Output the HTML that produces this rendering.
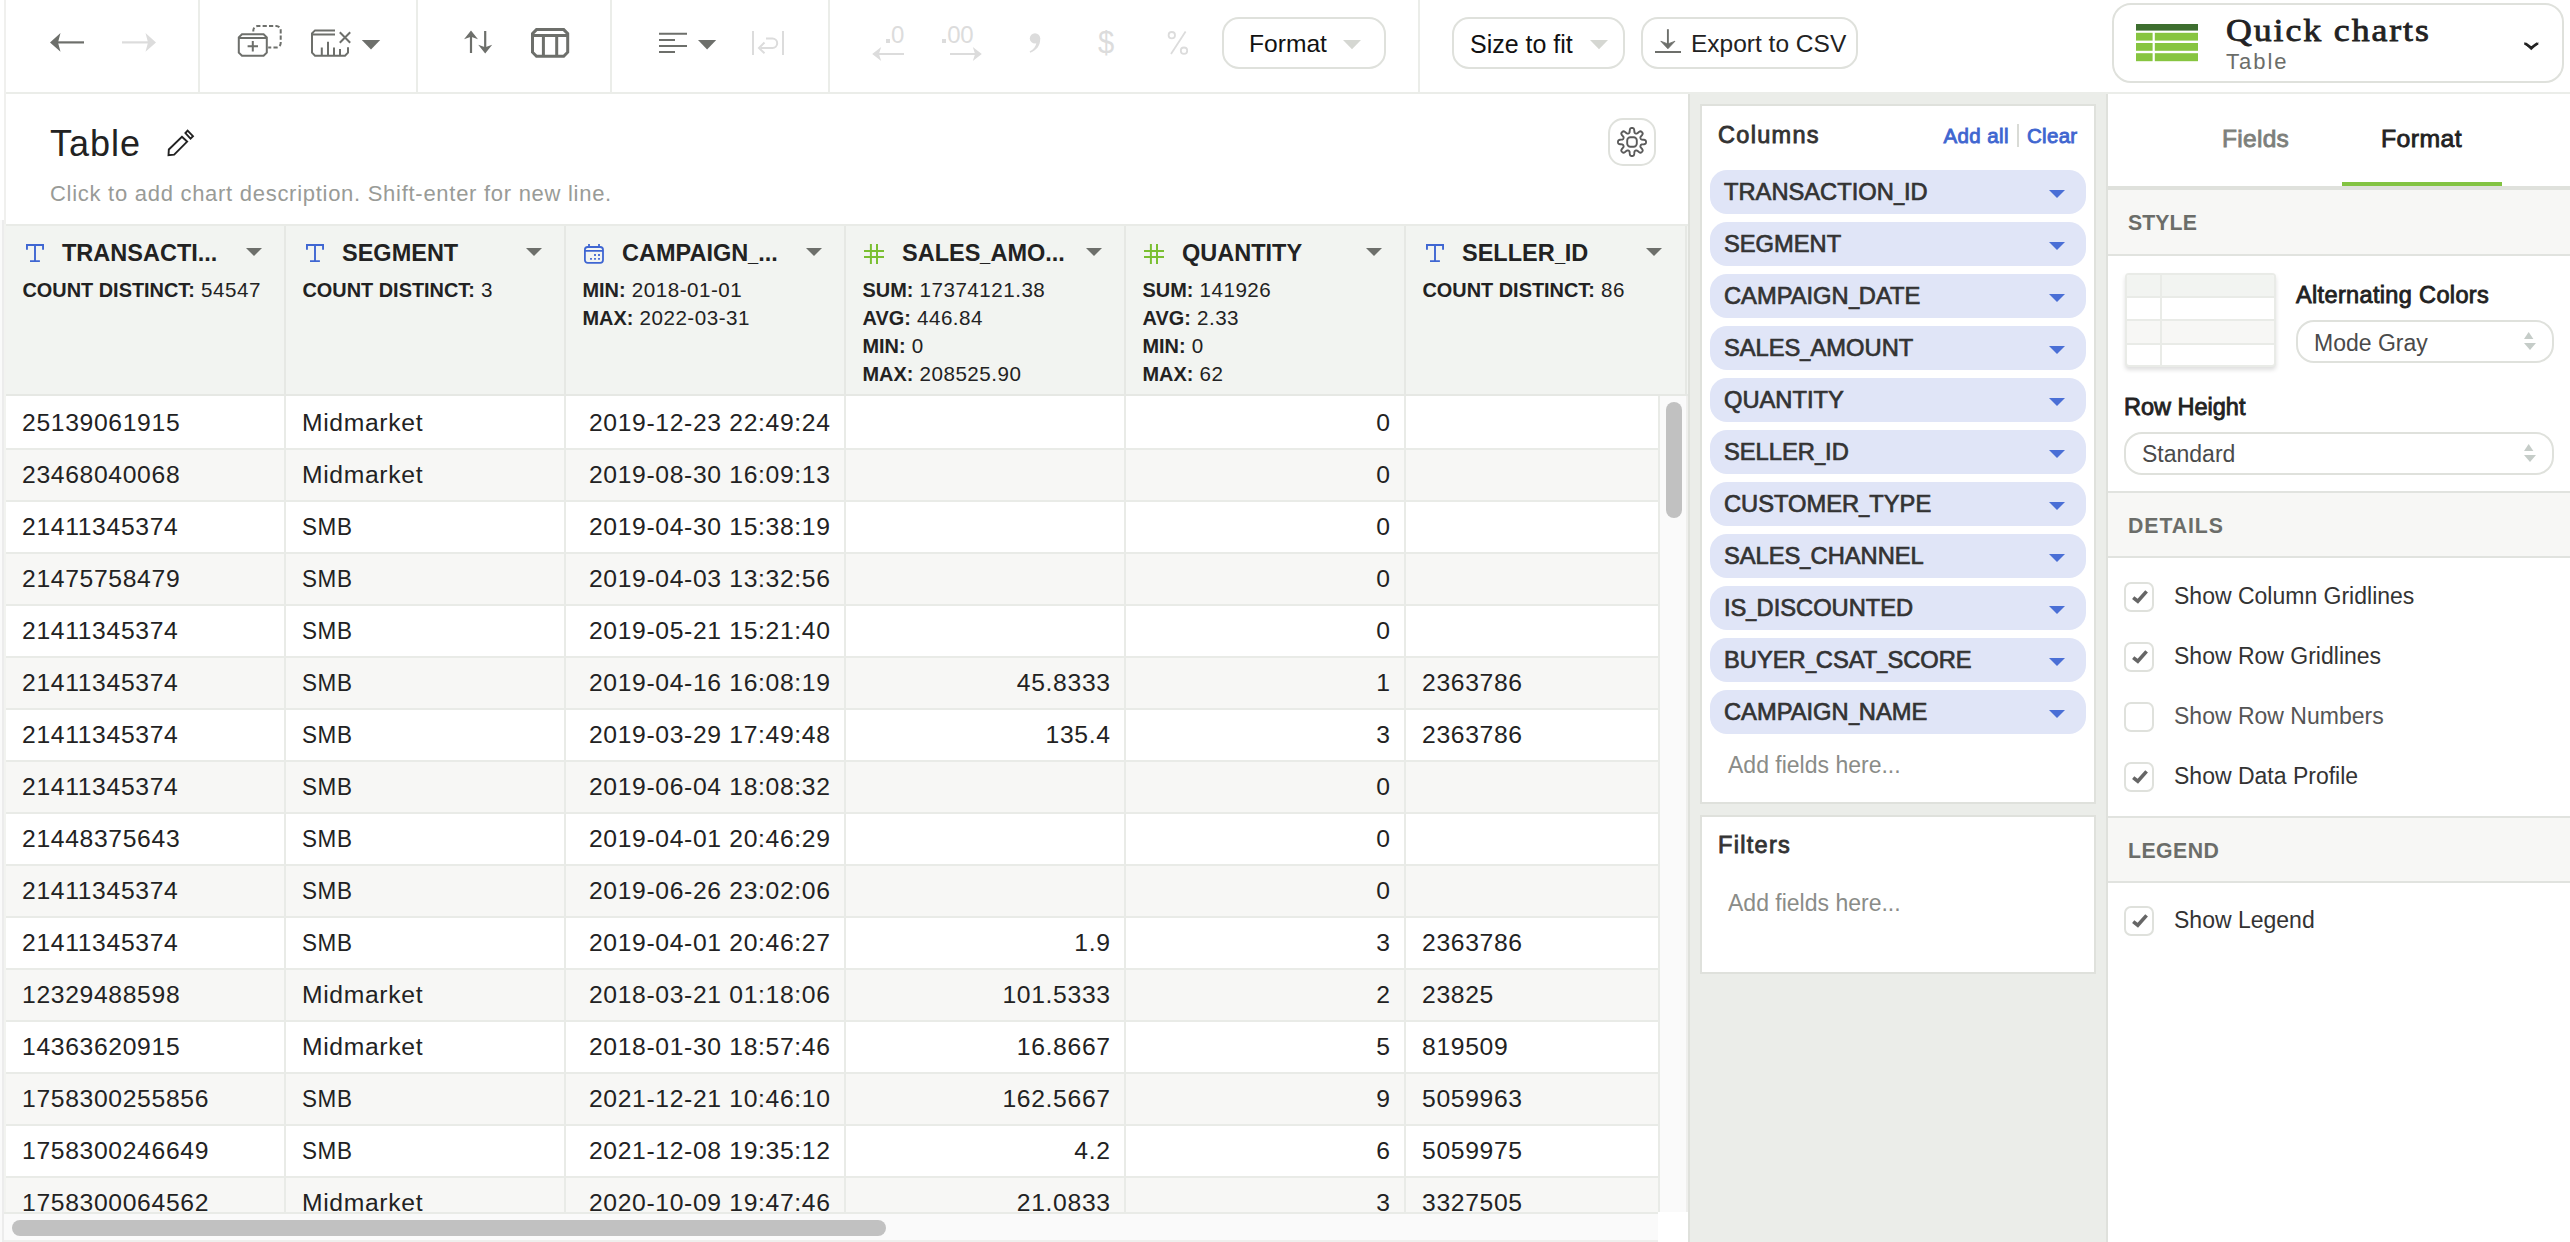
<!DOCTYPE html>
<html><head><meta charset="utf-8"><title>Table</title>
<style>
*{box-sizing:border-box;margin:0;padding:0}
html,body{width:2570px;height:1242px;overflow:hidden;background:#fff}
body{font-family:"Liberation Sans",sans-serif;color:#222;position:relative}
.abs{position:absolute}
.ln{position:absolute;background:#e9ebe7}
svg{position:absolute;overflow:visible}
.btn{position:absolute;border:2px solid #dfe1dc;border-radius:17px;background:#fff}
.t{position:absolute;white-space:nowrap;line-height:1}
/* table */
#hdr{position:absolute;left:6px;top:224px;width:1682px;height:172px;background:#f2f4f1;border-top:2px solid #e9ebe7;border-bottom:2px solid #e6e8e4}
.hc{position:absolute;top:0;height:168px;width:280px}
.hc .hi{left:18px;top:18px}
.hc .nm{position:absolute;left:56px;top:16px;font-weight:bold;font-size:23.5px;line-height:1;white-space:nowrap;color:#222}
.hc .cr{position:absolute;left:239.5px;top:22px;width:0;height:0;border-left:8px solid transparent;border-right:8px solid transparent;border-top:8.3px solid #6d6f6b}
.hc .st{position:absolute;left:16.5px;font-size:20.6px;letter-spacing:.5px;line-height:1;white-space:nowrap;color:#222}
.hc .st b{font-size:19.9px;letter-spacing:0}
.u{display:inline-block;width:.43em;transform:scaleX(.78);transform-origin:left}
.row{position:absolute;left:6px;width:1652px;height:52px;border-bottom:2px solid #e9ebe7;background:#fff}
.smb{display:inline-block;transform:scaleX(.91);transform-origin:left}
.row.alt{background:#f7f7f5}
.c{position:absolute;top:0;height:50px;line-height:49.4px;font-size:24.7px;letter-spacing:.66px;white-space:nowrap;color:#222}
.c.r{margin-right:-.66px}
.vl{position:absolute;width:2px;background:#e9ebe7}
/* chips */
.chip{position:absolute;left:1710px;width:376px;height:44px;border-radius:17px;background:#e0e5f7}
.chip>span{position:absolute;left:14px;top:11.3px;font-size:23.7px;line-height:1;color:#333;-webkit-text-stroke:0.7px #333;white-space:nowrap}
.chip i{position:absolute;left:338.5px;top:19.5px;width:0;height:0;border-left:8px solid transparent;border-right:8px solid transparent;border-top:8px solid #4a6fd6}
.card{position:absolute;left:1700px;width:396px;background:#fff;border:2px solid #dfe1dc}
.sec{position:absolute;left:2108px;width:462px;height:67px;background:#f7f7f5;border-top:2px solid #e1e3df;border-bottom:2px solid #e1e3df}
.sec span{position:absolute;left:19.8px;top:22.3px;font-size:22.6px;font-weight:bold;letter-spacing:.5px;color:#6b6d69;line-height:1;transform:scaleX(.94);transform-origin:left}
.cb{position:absolute;left:2124px;width:30px;height:30px;border:2px solid #dfe1dc;border-radius:7px;background:#fff}
.cbl{position:absolute;left:2174px;font-size:23px;line-height:1;color:#333;white-space:nowrap}
.med{-webkit-text-stroke:0.85px currentColor}
.sel{position:absolute;border:2px solid #dfe1dc;border-radius:18px;background:#fff;height:43px}
.sel span{position:absolute;left:16px;top:9.5px;font-size:23px;line-height:1;color:#4a4a4a}
.sel i{position:absolute;right:16px;width:0;height:0;border-left:6px solid transparent;border-right:6px solid transparent}
.sel i.u{top:10px;border-bottom:7.5px solid #c5ccc8}
.sel i.d{top:21px;border-top:7.5px solid #c5ccc8}
</style></head><body>
<div class="ln" style="left:4px;top:0;width:2px;height:224px;background:#f0f0ee"></div><div class="ln" style="left:0;top:220px;width:2px;height:1022px;background:#fafafa"></div><div class="ln" style="left:2px;top:220px;width:2px;height:1022px;background:#ececec"></div><div class="ln" style="left:4px;top:224px;width:2px;height:1018px;background:#f2f3f0"></div><div class="ln" style="left:6px;top:92px;width:2564px;height:2px;background:#ebede9"></div><div class="ln" style="left:198px;top:0;width:2px;height:92px;background:#ebede9"></div><div class="ln" style="left:416px;top:0;width:2px;height:92px;background:#ebede9"></div><div class="ln" style="left:610px;top:0;width:2px;height:92px;background:#ebede9"></div><div class="ln" style="left:828px;top:0;width:2px;height:92px;background:#ebede9"></div><div class="ln" style="left:1418px;top:0;width:2px;height:92px;background:#ebede9"></div><svg style="left:0;top:0" width="1440" height="92" viewBox="0 0 1440 92"><path d="M50 42.4 L60.5 33 L58 42.4 L60.5 51.8 Z" fill="#6d6f6b"/><path d="M56 42.4H84" stroke="#6d6f6b" stroke-width="2.2"/><path d="M156 42.4 L145.5 33 L148 42.4 L145.5 51.8 Z" fill="#dcdcdc"/><path d="M122 42.4H150" stroke="#dcdcdc" stroke-width="2.2"/><path d="M242 34.2h21.6l3.2 3.2v15.2l-3.2 3.2h-21.6l-3.2-3.2v-15.2z M239.5 38h27.5" fill="none" stroke="#6d6f6b" stroke-width="2"/><path d="M247.6 46.2h10.4M252.8 41v10.4" stroke="#6d6f6b" stroke-width="2"/><path d="M253.3 31.6v-1.1a4.5 4.5 0 0 1 4.5-4.5h18.4a4.5 4.5 0 0 1 4.5 4.5v12.5a4.500 4.500 0 0 1-4.5 4.500h-8" fill="none" stroke="#6d6f6b" stroke-width="2" stroke-dasharray="4.2 2.2"/><path d="M335 30.4h-20l-3 3v19.300l3 3h30l3-3v-5.500 M312 34.600h23" fill="none" stroke="#6d6f6b" stroke-width="2"/><path d="M321.800 47.400v8M328 41.700v13.700M334 47.400v8M340 49v6.400" stroke="#6d6f6b" stroke-width="2"/><path d="M339.800 32.300l10.400 10.400M350.200 32.300l-10.400 10.400" stroke="#6d6f6b" stroke-width="2"/><path d="M361.800 40h18.400l-9.200 9.400z" fill="#6d6f6b"/><path d="M471 33v20M485.200 31v18" stroke="#6d6f6b" stroke-width="2.200"/><path d="M471 30.600l7 8.600-7-2.400-7 2.400z" fill="#6d6f6b"/><path d="M485.200 53.400l7-8.600-7 2.400-7-2.400z" fill="#6d6f6b"/><path d="M536.500 29.600h27.200l4 4v18.600l-4 4h-27.200l-4-4v-18.600z M533 35.400h35 M543.400 35.400v20.500M556.700 35.400v20.500" fill="none" stroke="#6d6f6b" stroke-width="3"/><path d="M659 33.800h28M659 39.900h16M659 45.900h28M659 52h16" stroke="#6d6f6b" stroke-width="2"/><path d="M698 40h18.200l-9.100 9.400z" fill="#6d6f6b"/><path d="M753 31v24M783 31v24" stroke="#dcdcdc" stroke-width="2"/><path d="M766 38.500h6.500a4.700 4.700 0 0 1 0 9.400h-12" fill="none" stroke="#dcdcdc" stroke-width="2"/><path d="M764.500 42.500l-5.500 5.400 5.500 5.400" fill="none" stroke="#dcdcdc" stroke-width="2"/><path d="M876 54h28" stroke="#dcdcdc" stroke-width="2"/><path d="M872.200 54l9-7-2.300 7 2.300 7z" fill="#dcdcdc"/><path d="M954 54h-4h28" stroke="#dcdcdc" stroke-width="2"/><path d="M981.800 54l-9-7 2.300 7-2.300 7z" fill="#dcdcdc"/></svg><div class="t" style="left:891px;top:22.500px;font-size:24px;color:#dcdcdc">0</div><div class="abs" style="left:886px;top:39.300px;width:3.600px;height:3.600px;background:#dcdcdc"></div><div class="t" style="left:947.200px;top:22.500px;font-size:24px;letter-spacing:-.400px;color:#dcdcdc">00</div><div class="abs" style="left:942px;top:39.300px;width:3.600px;height:3.600px;background:#dcdcdc"></div><svg style="left:1025px;top:30px" width="20" height="26" viewBox="1025 30 20 26"><circle cx="1035" cy="38.400" r="5.200" fill="#dcdcdc"/><path d="M1040.200 38.400C1040.400 45.500 1036.500 50.200 1030.200 52.800L1029.600 51.600C1033.800 49.300 1036.200 46 1036.400 42.200Z" fill="#dcdcdc"/></svg><div class="t" style="left:1097.500px;top:26.500px;font-size:31px;color:#dcdcdc;transform:scaleX(.94);transform-origin:left">$</div><svg style="left:1165px;top:28px" width="26" height="30" viewBox="1165 28 26 30"><circle cx="1171.800" cy="35.200" r="3.200" fill="none" stroke="#dcdcdc" stroke-width="1.800"/><circle cx="1184" cy="50.700" r="3.200" fill="none" stroke="#dcdcdc" stroke-width="1.800"/><path d="M1185.600 31.500L1171 54" stroke="#dcdcdc" stroke-width="1.800"/></svg><div class="btn" style="left:1222px;top:17px;width:164px;height:52px"></div><div class="t" style="left:1249px;top:31.800px;font-size:24.600px;color:#111">Format</div><svg style="left:1343px;top:40px" width="18" height="10"><path d="M0 0h18l-9 9.200z" fill="#d5d7d2"/></svg><div class="btn" style="left:1452px;top:17px;width:173px;height:52px"></div><div class="t" style="left:1470px;top:31.800px;font-size:25px;color:#111">Size to fit</div><svg style="left:1590px;top:40px" width="18" height="10"><path d="M0 0h18l-9 9.200z" fill="#d5d7d2"/></svg><div class="btn" style="left:1641px;top:17px;width:217px;height:52px"></div><svg style="left:1650px;top:25px" width="36" height="32" viewBox="1650 25 36 32"><path d="M1655 52h26" stroke="#6d6f6b" stroke-width="2"/><path d="M1667.900 29.200v16" stroke="#6d6f6b" stroke-width="1.900"/><path d="M1660.800 41.200L1667.900 43.900L1675 41.200L1667.900 48.800Z" fill="#6d6f6b" stroke="#6d6f6b" stroke-width="0.800" stroke-linejoin="round"/></svg><div class="t" style="left:1691px;top:31.800px;font-size:24.500px;color:#222">Export to CSV</div><div class="btn" style="left:2112px;top:3px;width:452px;height:80px;border-radius:19px"></div><svg style="left:2136px;top:24px" width="62" height="38" viewBox="0 0 62 38"><rect x="0" y="0" width="62" height="6.600" fill="#3d6e2f"/><g fill="#87c540"><rect x="0" y="8.800" width="16.600" height="7.800"/><rect x="18.800" y="8.800" width="43.200" height="7.800"/><rect x="0" y="19" width="16.600" height="7.800"/><rect x="18.800" y="19" width="43.200" height="7.800"/><rect x="0" y="29.200" width="16.600" height="8"/><rect x="18.800" y="29.200" width="43.200" height="8"/></g></svg><div class="t" style="left:2226px;top:14px;font-family:'Liberation Serif',serif;font-size:32.500px;letter-spacing:1.750px;color:#222;-webkit-text-stroke:0.800px #222;transform:scaleX(1.100);transform-origin:left">Quick charts</div><div class="t" style="left:2226px;top:51px;font-size:22px;letter-spacing:2px;color:#6b6d69">Table</div><svg style="left:2523px;top:40.500px" width="17" height="10" viewBox="0 0 17 10"><path d="M1.300 1 L8.300 8.600 L15.300 1 L15.300 3.600 C12.500 5.200 10 7.300 8.300 9.300 C6.600 7.300 4.100 5.200 1.300 3.600Z" fill="#222"/><path d="M2 2.200 C4.500 4 6.500 5.300 8.300 7 C10.100 5.300 12.100 4 14.600 2.200" fill="none" stroke="#222" stroke-width="2.600"/></svg><div class="t" style="left:50px;top:125.900px;font-size:36px;letter-spacing:1px;color:#222">Table</div><svg style="left:160px;top:120px" width="44" height="44" viewBox="160 120 44 44"><path d="M181.91 136.72L187.14 141.62L174.17 154.59L168.51 155.15L168.83 149.52Z M187.62 130.60L192.97 136.19L190.53 138.63L185.39 133.09Z" fill="none" stroke="#222" stroke-width="1.900" stroke-linejoin="miter"/></svg><div class="t" style="left:50px;top:182.700px;font-size:22px;letter-spacing:0.720px;color:#999b97">Click to add chart description. Shift-enter for new line.</div><div class="btn" style="left:1608px;top:118px;width:48px;height:48px;border-radius:15px"></div><svg style="left:1608px;top:118px" width="48" height="48" viewBox="0 0 48 48"><path d="M38.00 24.00 L37.99 24.37 L37.95 24.73 L37.86 25.09 L37.70 25.44 L37.39 25.76 L36.83 26.03 L35.95 26.21 L34.90 26.32 L34.02 26.41 L33.46 26.53 L33.13 26.71 L32.94 26.90 L32.80 27.12 L32.69 27.34 L32.59 27.56 L32.50 27.79 L32.43 28.02 L32.37 28.27 L32.37 28.55 L32.48 28.90 L32.79 29.39 L33.35 30.07 L34.02 30.88 L34.51 31.64 L34.72 32.22 L34.70 32.67 L34.57 33.03 L34.38 33.34 L34.15 33.63 L33.90 33.90 L33.63 34.15 L33.34 34.38 L33.03 34.57 L32.67 34.70 L32.22 34.72 L31.64 34.51 L30.88 34.02 L30.07 33.35 L29.39 32.79 L28.90 32.48 L28.55 32.37 L28.27 32.37 L28.02 32.43 L27.79 32.50 L27.56 32.59 L27.34 32.69 L27.12 32.80 L26.90 32.94 L26.71 33.13 L26.53 33.46 L26.41 34.02 L26.32 34.90 L26.21 35.95 L26.03 36.83 L25.76 37.39 L25.44 37.70 L25.09 37.86 L24.73 37.95 L24.37 37.99 L24.00 38.00 L23.63 37.99 L23.27 37.95 L22.91 37.86 L22.56 37.70 L22.24 37.39 L21.97 36.83 L21.79 35.95 L21.68 34.90 L21.59 34.02 L21.47 33.46 L21.29 33.13 L21.10 32.94 L20.88 32.80 L20.66 32.69 L20.44 32.59 L20.21 32.50 L19.98 32.43 L19.73 32.37 L19.45 32.37 L19.10 32.48 L18.61 32.79 L17.93 33.35 L17.12 34.02 L16.36 34.51 L15.78 34.72 L15.33 34.70 L14.97 34.57 L14.66 34.38 L14.37 34.15 L14.10 33.90 L13.85 33.63 L13.62 33.34 L13.43 33.03 L13.30 32.67 L13.28 32.22 L13.49 31.64 L13.98 30.88 L14.65 30.07 L15.21 29.39 L15.52 28.90 L15.63 28.55 L15.63 28.27 L15.57 28.02 L15.50 27.79 L15.41 27.56 L15.31 27.34 L15.20 27.12 L15.06 26.90 L14.87 26.71 L14.54 26.53 L13.98 26.41 L13.10 26.32 L12.05 26.21 L11.17 26.03 L10.61 25.76 L10.30 25.44 L10.14 25.09 L10.05 24.73 L10.01 24.37 L10.00 24.00 L10.01 23.63 L10.05 23.27 L10.14 22.91 L10.30 22.56 L10.61 22.24 L11.17 21.97 L12.05 21.79 L13.10 21.68 L13.98 21.59 L14.54 21.47 L14.87 21.29 L15.06 21.10 L15.20 20.88 L15.31 20.66 L15.41 20.44 L15.50 20.21 L15.57 19.98 L15.63 19.73 L15.63 19.45 L15.52 19.10 L15.21 18.61 L14.65 17.93 L13.98 17.12 L13.49 16.36 L13.28 15.78 L13.30 15.33 L13.43 14.97 L13.62 14.66 L13.85 14.37 L14.10 14.10 L14.37 13.85 L14.66 13.62 L14.97 13.43 L15.33 13.30 L15.78 13.28 L16.36 13.49 L17.12 13.98 L17.93 14.65 L18.61 15.21 L19.10 15.52 L19.45 15.63 L19.73 15.63 L19.98 15.57 L20.21 15.50 L20.44 15.41 L20.66 15.31 L20.88 15.20 L21.10 15.06 L21.29 14.87 L21.47 14.54 L21.59 13.98 L21.68 13.10 L21.79 12.05 L21.97 11.17 L22.24 10.61 L22.56 10.30 L22.91 10.14 L23.27 10.05 L23.63 10.01 L24.00 10.00 L24.37 10.01 L24.73 10.05 L25.09 10.14 L25.44 10.30 L25.76 10.61 L26.03 11.17 L26.21 12.05 L26.32 13.10 L26.41 13.98 L26.53 14.54 L26.71 14.87 L26.90 15.06 L27.12 15.20 L27.34 15.31 L27.56 15.41 L27.79 15.50 L28.02 15.57 L28.27 15.63 L28.55 15.63 L28.90 15.52 L29.39 15.21 L30.07 14.65 L30.88 13.98 L31.64 13.49 L32.22 13.28 L32.67 13.30 L33.03 13.43 L33.34 13.62 L33.63 13.85 L33.90 14.10 L34.15 14.37 L34.38 14.66 L34.57 14.97 L34.70 15.33 L34.72 15.78 L34.51 16.36 L34.02 17.12 L33.35 17.93 L32.79 18.61 L32.48 19.10 L32.37 19.45 L32.37 19.73 L32.43 19.98 L32.50 20.21 L32.59 20.44 L32.69 20.66 L32.80 20.88 L32.94 21.10 L33.13 21.29 L33.46 21.47 L34.02 21.59 L34.90 21.68 L35.95 21.79 L36.83 21.97 L37.39 22.24 L37.70 22.56 L37.86 22.91 L37.95 23.27 L37.99 23.63Z" fill="none" stroke="#5a5a5a" stroke-width="1.900" stroke-linejoin="round"/><rect x="19.200" y="19.200" width="9.600" height="9.600" rx="3.200" fill="none" stroke="#5a5a5a" stroke-width="1.900"/></svg><div class="ln" style="left:1688px;top:94px;width:2px;height:1148px;background:#dfe1dc"></div><div id="hdr"><div class="hc" style="left:0px"><svg class="hi" viewBox="0 0 22 20" width="22" height="20"><path d="M2.950 5.800V0.950H19.050V5.800M11 0.950V17.100M6 17.100h9.900" fill="none" stroke="#3f66d2" stroke-width="1.900"/></svg><div class="nm">TRANSACTI...</div><div class="cr"></div><div class="st" style="top:54px"><b>COUNT DISTINCT:</b> 54547</div></div><div class="hc" style="left:280px"><svg class="hi" viewBox="0 0 22 20" width="22" height="20"><path d="M2.950 5.800V0.950H19.050V5.800M11 0.950V17.100M6 17.100h9.900" fill="none" stroke="#3f66d2" stroke-width="1.900"/></svg><div class="nm">SEGMENT</div><div class="cr"></div><div class="st" style="top:54px"><b>COUNT DISTINCT:</b> 3</div></div><div class="hc" style="left:560px"><svg class="hi" viewBox="0 0 20 20" width="20" height="20"><rect x="0.900" y="3" width="18.100" height="15.900" rx="2.800" fill="none" stroke="#3f66d2" stroke-width="1.800"/><path d="M0.900 6.800h18.100M5 0v3M15 0v3" stroke="#3f66d2" stroke-width="1.800"/><path d="M10.100 11h1.800M14.100 11h1.800M6.100 14.900h1.800M10.100 14.900h1.800M14.100 14.900h1.800" stroke="#3f66d2" stroke-width="1.800"/></svg><div class="nm">CAMPAIGN<span class="u">_</span>...</div><div class="cr"></div><div class="st" style="top:54px"><b>MIN:</b> 2018-01-01</div><div class="st" style="top:82px"><b>MAX:</b> 2022-03-31</div></div><div class="hc" style="left:840px"><svg class="hi" viewBox="0 0 20 20" width="20" height="20"><path d="M6.900 0v20M13 0v20M0 6.900h20M0 13h20" fill="none" stroke="#7abf31" stroke-width="2"/></svg><div class="nm">SALES<span class="u">_</span>AMO...</div><div class="cr"></div><div class="st" style="top:54px"><b>SUM:</b> 17374121.38</div><div class="st" style="top:82px"><b>AVG:</b> 446.84</div><div class="st" style="top:110px"><b>MIN:</b> 0</div><div class="st" style="top:138px"><b>MAX:</b> 208525.90</div></div><div class="hc" style="left:1120px"><svg class="hi" viewBox="0 0 20 20" width="20" height="20"><path d="M6.900 0v20M13 0v20M0 6.900h20M0 13h20" fill="none" stroke="#7abf31" stroke-width="2"/></svg><div class="nm">QUANTITY</div><div class="cr"></div><div class="st" style="top:54px"><b>SUM:</b> 141926</div><div class="st" style="top:82px"><b>AVG:</b> 2.33</div><div class="st" style="top:110px"><b>MIN:</b> 0</div><div class="st" style="top:138px"><b>MAX:</b> 62</div></div><div class="hc" style="left:1400px"><svg class="hi" viewBox="0 0 22 20" width="22" height="20"><path d="M2.950 5.800V0.950H19.050V5.800M11 0.950V17.100M6 17.100h9.900" fill="none" stroke="#3f66d2" stroke-width="1.900"/></svg><div class="nm">SELLER<span class="u">_</span>ID</div><div class="cr"></div><div class="st" style="top:54px"><b>COUNT DISTINCT:</b> 86</div></div><div class="vl" style="left:278px;top:0;height:168px;background:#e6e8e4"></div><div class="vl" style="left:558px;top:0;height:168px;background:#e6e8e4"></div><div class="vl" style="left:838px;top:0;height:168px;background:#e6e8e4"></div><div class="vl" style="left:1118px;top:0;height:168px;background:#e6e8e4"></div><div class="vl" style="left:1398px;top:0;height:168px;background:#e6e8e4"></div><div class="vl" style="left:1679px;top:0;height:168px;background:#e6e8e4"></div></div><div class="abs" style="left:6px;top:396px;width:1652px;height:2px;background:#fff"></div><div class="row" style="top:398px"><div class="c" style="left:16px">25139061915</div><div class="c" style="left:296px">Midmarket</div><div class="c r" style="right:828px">2019-12-23 22:49:24</div><div class="c r" style="right:268px">0</div></div><div class="row alt" style="top:450px"><div class="c" style="left:16px">23468040068</div><div class="c" style="left:296px">Midmarket</div><div class="c r" style="right:828px">2019-08-30 16:09:13</div><div class="c r" style="right:268px">0</div></div><div class="row" style="top:502px"><div class="c" style="left:16px">21411345374</div><div class="c" style="left:296px"><span class="smb">SMB</span></div><div class="c r" style="right:828px">2019-04-30 15:38:19</div><div class="c r" style="right:268px">0</div></div><div class="row alt" style="top:554px"><div class="c" style="left:16px">21475758479</div><div class="c" style="left:296px"><span class="smb">SMB</span></div><div class="c r" style="right:828px">2019-04-03 13:32:56</div><div class="c r" style="right:268px">0</div></div><div class="row" style="top:606px"><div class="c" style="left:16px">21411345374</div><div class="c" style="left:296px"><span class="smb">SMB</span></div><div class="c r" style="right:828px">2019-05-21 15:21:40</div><div class="c r" style="right:268px">0</div></div><div class="row alt" style="top:658px"><div class="c" style="left:16px">21411345374</div><div class="c" style="left:296px"><span class="smb">SMB</span></div><div class="c r" style="right:828px">2019-04-16 16:08:19</div><div class="c r" style="right:548px">45.8333</div><div class="c r" style="right:268px">1</div><div class="c" style="left:1416px">2363786</div></div><div class="row" style="top:710px"><div class="c" style="left:16px">21411345374</div><div class="c" style="left:296px"><span class="smb">SMB</span></div><div class="c r" style="right:828px">2019-03-29 17:49:48</div><div class="c r" style="right:548px">135.4</div><div class="c r" style="right:268px">3</div><div class="c" style="left:1416px">2363786</div></div><div class="row alt" style="top:762px"><div class="c" style="left:16px">21411345374</div><div class="c" style="left:296px"><span class="smb">SMB</span></div><div class="c r" style="right:828px">2019-06-04 18:08:32</div><div class="c r" style="right:268px">0</div></div><div class="row" style="top:814px"><div class="c" style="left:16px">21448375643</div><div class="c" style="left:296px"><span class="smb">SMB</span></div><div class="c r" style="right:828px">2019-04-01 20:46:29</div><div class="c r" style="right:268px">0</div></div><div class="row alt" style="top:866px"><div class="c" style="left:16px">21411345374</div><div class="c" style="left:296px"><span class="smb">SMB</span></div><div class="c r" style="right:828px">2019-06-26 23:02:06</div><div class="c r" style="right:268px">0</div></div><div class="row" style="top:918px"><div class="c" style="left:16px">21411345374</div><div class="c" style="left:296px"><span class="smb">SMB</span></div><div class="c r" style="right:828px">2019-04-01 20:46:27</div><div class="c r" style="right:548px">1.9</div><div class="c r" style="right:268px">3</div><div class="c" style="left:1416px">2363786</div></div><div class="row alt" style="top:970px"><div class="c" style="left:16px">12329488598</div><div class="c" style="left:296px">Midmarket</div><div class="c r" style="right:828px">2018-03-21 01:18:06</div><div class="c r" style="right:548px">101.5333</div><div class="c r" style="right:268px">2</div><div class="c" style="left:1416px">23825</div></div><div class="row" style="top:1022px"><div class="c" style="left:16px">14363620915</div><div class="c" style="left:296px">Midmarket</div><div class="c r" style="right:828px">2018-01-30 18:57:46</div><div class="c r" style="right:548px">16.8667</div><div class="c r" style="right:268px">5</div><div class="c" style="left:1416px">819509</div></div><div class="row alt" style="top:1074px"><div class="c" style="left:16px">1758300255856</div><div class="c" style="left:296px"><span class="smb">SMB</span></div><div class="c r" style="right:828px">2021-12-21 10:46:10</div><div class="c r" style="right:548px">162.5667</div><div class="c r" style="right:268px">9</div><div class="c" style="left:1416px">5059963</div></div><div class="row" style="top:1126px"><div class="c" style="left:16px">1758300246649</div><div class="c" style="left:296px"><span class="smb">SMB</span></div><div class="c r" style="right:828px">2021-12-08 19:35:12</div><div class="c r" style="right:548px">4.2</div><div class="c r" style="right:268px">6</div><div class="c" style="left:1416px">5059975</div></div><div class="row alt" style="top:1178px"><div class="c" style="left:16px">1758300064562</div><div class="c" style="left:296px">Midmarket</div><div class="c r" style="right:828px">2020-10-09 19:47:46</div><div class="c r" style="right:548px">21.0833</div><div class="c r" style="right:268px">3</div><div class="c" style="left:1416px">3327505</div></div><div class="vl" style="left:284px;top:396px;height:818px"></div><div class="vl" style="left:564px;top:396px;height:818px"></div><div class="vl" style="left:844px;top:396px;height:818px"></div><div class="vl" style="left:1124px;top:396px;height:818px"></div><div class="vl" style="left:1404px;top:396px;height:818px"></div><div class="vl" style="left:1658px;top:396px;height:816px"></div><div class="abs" style="left:1660px;top:396px;width:28px;height:816px;background:#fafafa;border-right:2px solid #efefed"></div><div class="abs" style="left:1666px;top:402px;width:16px;height:116px;border-radius:8px;background:#c1c1c1"></div><div class="abs" style="left:4px;top:1212px;width:1654px;height:30px;background:#fafafa;border-top:2px solid #e9ebe7;border-bottom:2px solid #efefed"></div><div class="abs" style="left:12px;top:1220px;width:874px;height:16px;border-radius:8px;background:#c1c1c1"></div><div class="abs" style="left:1658px;top:1212px;width:30px;height:30px;background:#fff"></div><div class="abs" style="left:1690px;top:94px;width:416px;height:1148px;background:#ebede9"></div><div class="abs" style="left:2106px;top:94px;width:2px;height:1148px;background:#dfe1dc"></div><div class="card" style="top:104px;height:700px"></div><div class="t med" style="left:1718px;top:124px;font-size:23.500px;letter-spacing:1.300px;color:#333">Columns</div><div class="t med" style="left:1943.500px;top:126px;font-size:20.500px;letter-spacing:.400px;color:#3f66d0">Add all</div><div class="abs" style="left:2017px;top:124px;width:2px;height:23px;background:#d9dbd6"></div><div class="t med" style="left:2027px;top:126px;font-size:20.500px;letter-spacing:.300px;color:#3f66d0">Clear</div><div class="chip" style="top:170px"><span>TRANSACTION<span class="u">_</span>ID</span><i></i></div><div class="chip" style="top:222px"><span>SEGMENT</span><i></i></div><div class="chip" style="top:274px"><span>CAMPAIGN<span class="u">_</span>DATE</span><i></i></div><div class="chip" style="top:326px"><span>SALES<span class="u">_</span>AMOUNT</span><i></i></div><div class="chip" style="top:378px"><span>QUANTITY</span><i></i></div><div class="chip" style="top:430px"><span>SELLER<span class="u">_</span>ID</span><i></i></div><div class="chip" style="top:482px"><span>CUSTOMER<span class="u">_</span>TYPE</span><i></i></div><div class="chip" style="top:534px"><span>SALES<span class="u">_</span>CHANNEL</span><i></i></div><div class="chip" style="top:586px"><span>IS<span class="u">_</span>DISCOUNTED</span><i></i></div><div class="chip" style="top:638px"><span>BUYER<span class="u">_</span>CSAT<span class="u">_</span>SCORE</span><i></i></div><div class="chip" style="top:690px"><span>CAMPAIGN<span class="u">_</span>NAME</span><i></i></div><div class="t" style="left:1728px;top:753.500px;font-size:23px;color:#8a8c88">Add fields here...</div><div class="card" style="top:815px;height:159px"></div><div class="t med" style="left:1718px;top:834px;font-size:23.500px;letter-spacing:1.300px;color:#333">Filters</div><div class="t" style="left:1728px;top:891.500px;font-size:23px;color:#8a8c88">Add fields here...</div><div class="t med" style="left:2222px;top:127px;font-size:24.500px;letter-spacing:.300px;color:#7d7f7b">Fields</div><div class="t med" style="left:2381px;top:127px;font-size:24.800px;letter-spacing:.400px;color:#222">Format</div><div class="abs" style="left:2108px;top:186px;width:462px;height:4px;background:#dfe1dc"></div><div class="abs" style="left:2342px;top:182px;width:160px;height:4px;background:#82c341"></div><div class="sec" style="top:188px;border-top-color:#dfe1dc;height:68px"><span style="letter-spacing:.1px">STYLE</span></div><div class="abs" style="left:2125px;top:273px;width:151px;height:94px;border:2px solid #e9ebe7;border-radius:4px;background:#fff;box-shadow:0 3px 4px rgba(0,0,0,0.13);overflow:hidden"><div class="abs" style="left:0;top:0;width:147px;height:21px;background:#f2f4f1"></div><div class="abs" style="left:0;top:45px;width:147px;height:23px;background:#f7f7f5"></div><div class="abs" style="left:0;top:21px;width:147px;height:2px;background:#e9ebe7"></div><div class="abs" style="left:0;top:44px;width:147px;height:2px;background:#e9ebe7"></div><div class="abs" style="left:0;top:68px;width:147px;height:2px;background:#e9ebe7"></div><div class="abs" style="left:33px;top:0;width:2px;height:90px;background:#e9ebe7"></div></div><div class="t med" style="left:2296px;top:284px;font-size:23.500px;letter-spacing:.350px;color:#222">Alternating Colors</div><div class="sel" style="left:2296px;top:320px;width:258px"><span>Mode Gray</span><i class="u"></i><i class="d"></i></div><div class="t med" style="left:2124px;top:396px;font-size:23.500px;color:#222">Row Height</div><div class="sel" style="left:2124px;top:431.500px;width:430px"><span>Standard</span><i class="u"></i><i class="d"></i></div><div class="sec" style="top:491px"><span style="letter-spacing:1px">DETAILS</span></div><div class="cb" style="top:582px"><svg style="left:5.500px;top:6px" width="16" height="13" viewBox="0 0 16 13"><path d="M1.200 7.600l4.600 3.600L14.600 1.400" fill="none" stroke="#666" stroke-width="3.600"/></svg></div><div class="cbl" style="top:585.4px;color:#333">Show Column Gridlines</div><div class="cb" style="top:642px"><svg style="left:5.500px;top:6px" width="16" height="13" viewBox="0 0 16 13"><path d="M1.200 7.600l4.600 3.600L14.600 1.400" fill="none" stroke="#666" stroke-width="3.600"/></svg></div><div class="cbl" style="top:645.4px;color:#333">Show Row Gridlines</div><div class="cb" style="top:702px"></div><div class="cbl" style="top:705.4px;color:#555">Show Row Numbers</div><div class="cb" style="top:762px"><svg style="left:5.500px;top:6px" width="16" height="13" viewBox="0 0 16 13"><path d="M1.200 7.600l4.600 3.600L14.600 1.400" fill="none" stroke="#666" stroke-width="3.600"/></svg></div><div class="cbl" style="top:765.4px;color:#333">Show Data Profile</div><div class="sec" style="top:816px"><span>LEGEND</span></div><div class="cb" style="top:906px"><svg style="left:5.500px;top:6px" width="16" height="13" viewBox="0 0 16 13"><path d="M1.200 7.600l4.600 3.600L14.600 1.400" fill="none" stroke="#666" stroke-width="3.600"/></svg></div><div class="cbl" style="top:909.400px">Show Legend</div></body></html>
